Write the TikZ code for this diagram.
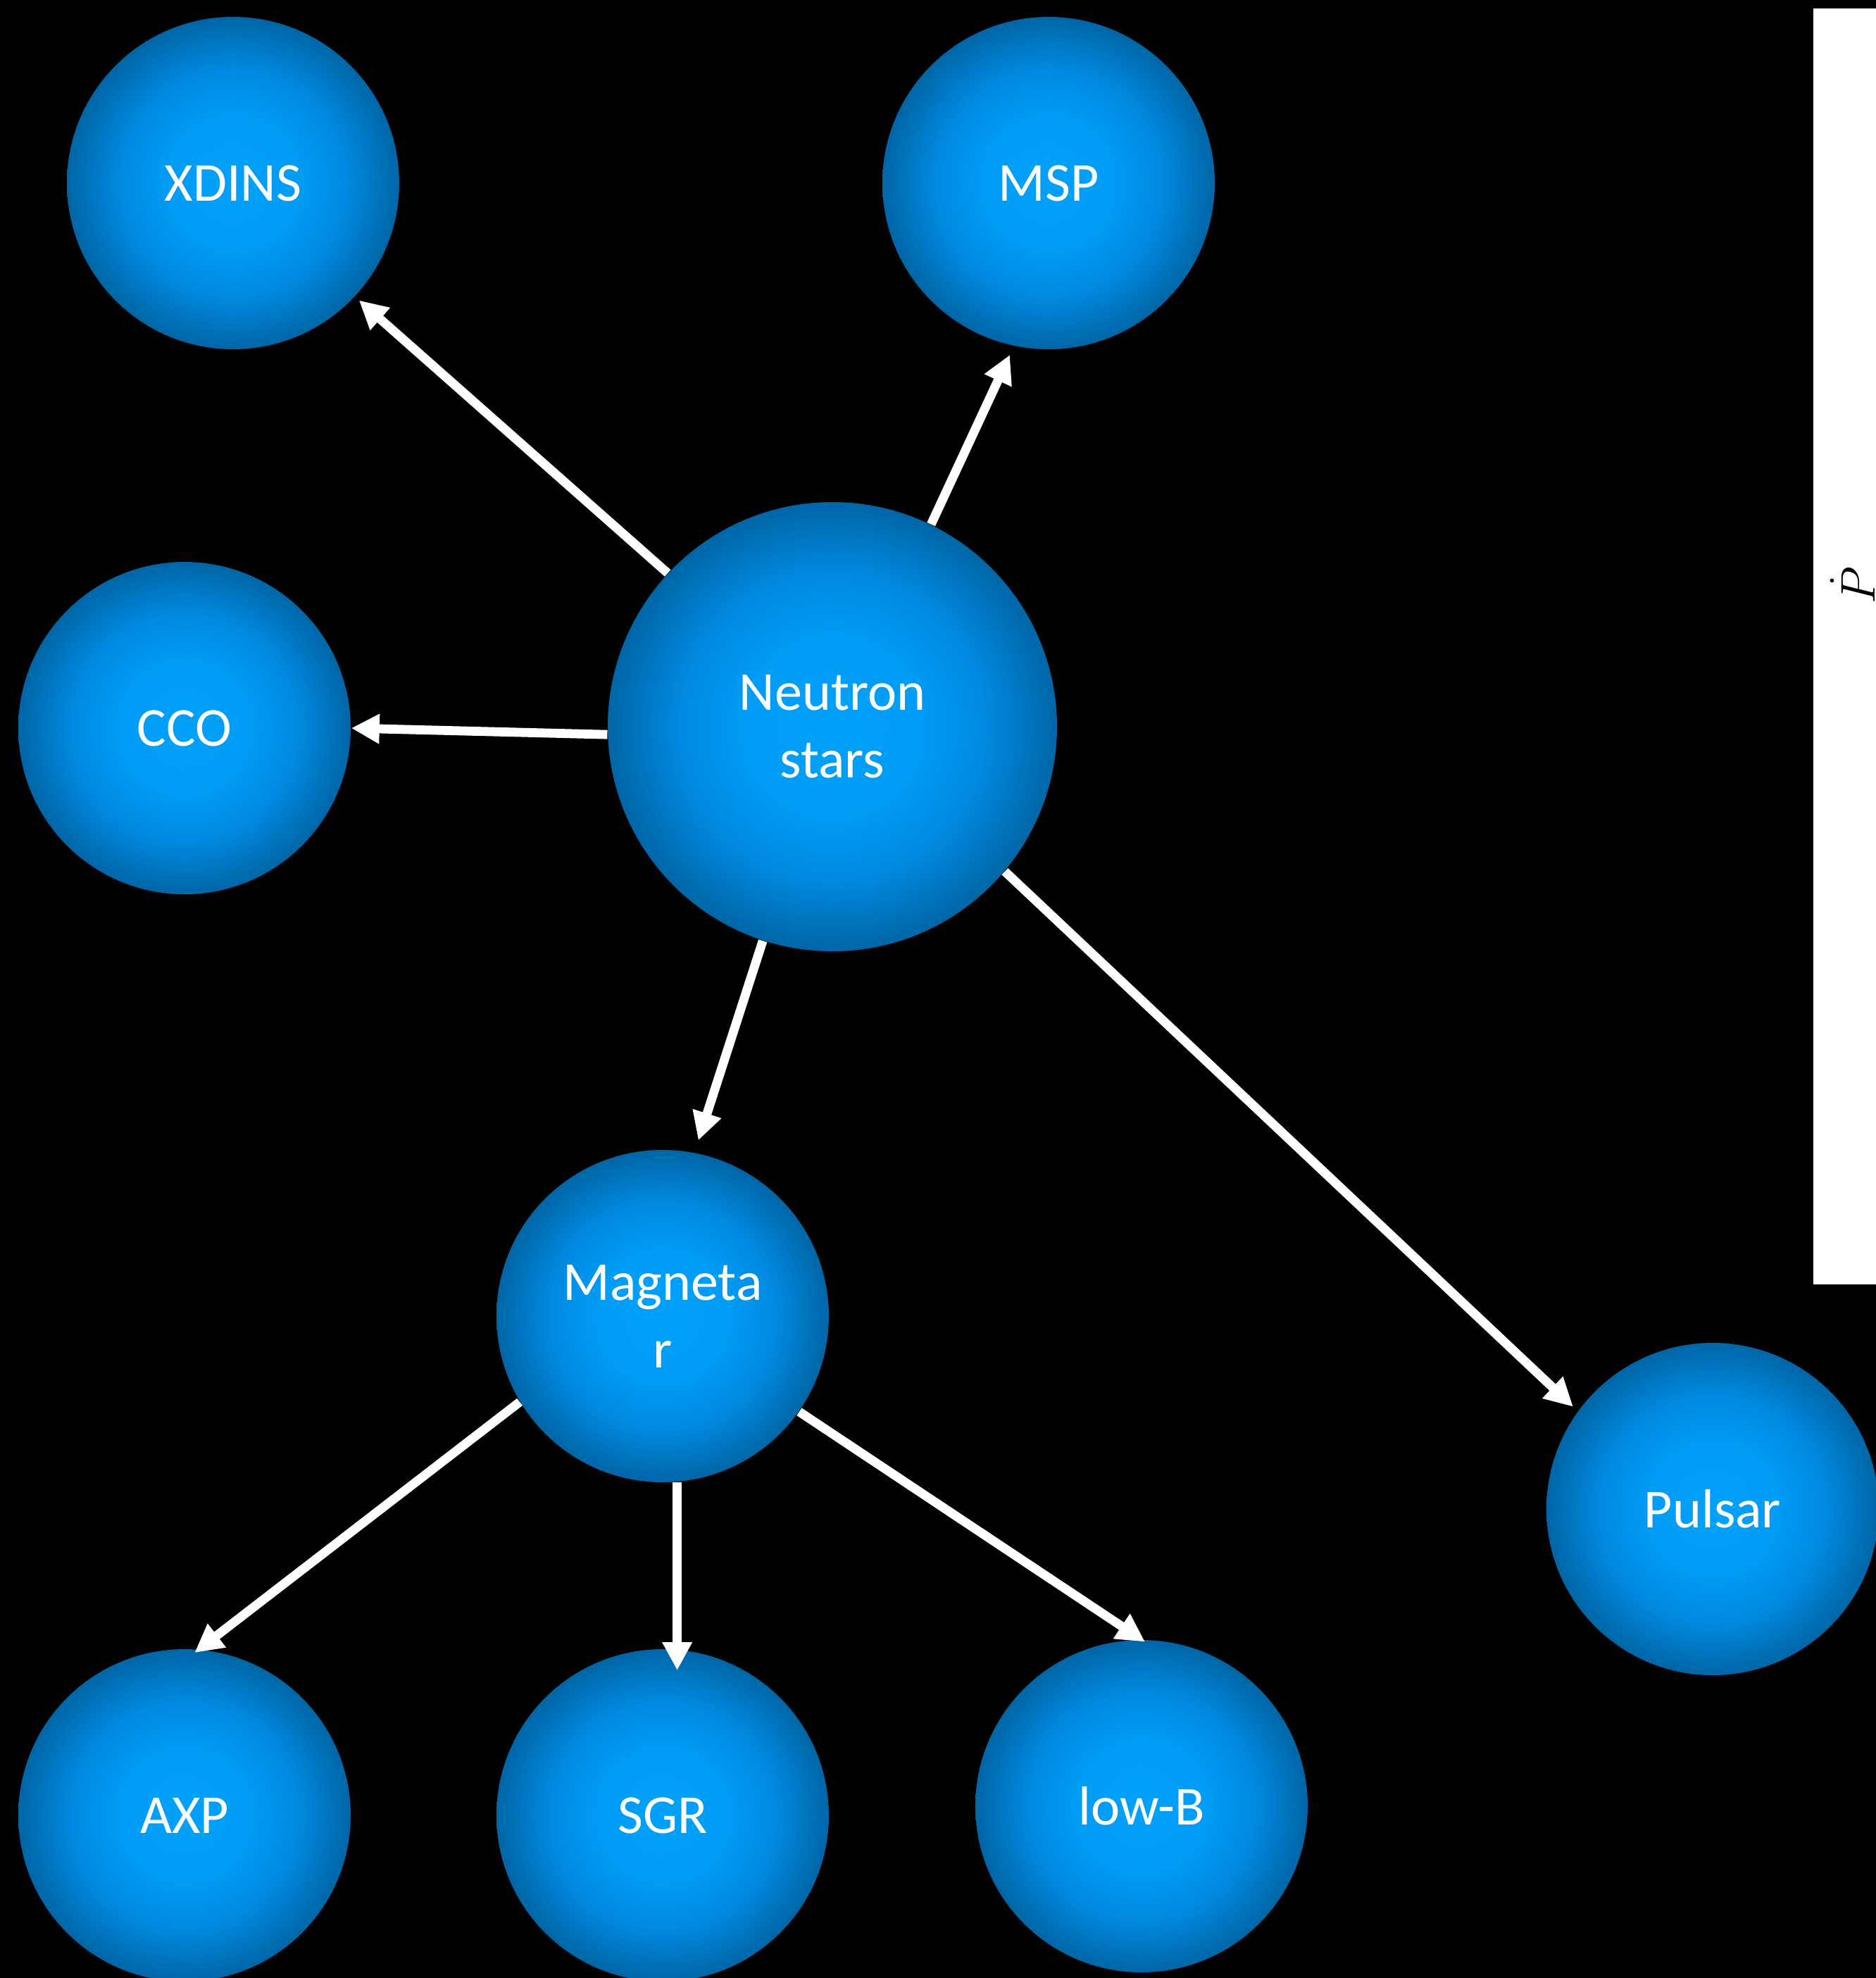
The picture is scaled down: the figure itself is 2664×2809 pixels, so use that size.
\documentclass[tikz,border=0pt]{standalone}
\usepackage{fontspec}
\setmainfont{Carlito}
\usetikzlibrary{arrows.meta}
\pgfdeclareradialshading{nsball}{\pgfpoint{0bp}{0bp}}{rgb(0bp)=(0,0.63,0.98); rgb(10bp)=(0,0.61,0.96); rgb(17bp)=(0,0.54,0.88); rgb(25bp)=(0,0.40,0.65); rgb(50bp)=(0,0.40,0.65)}
\tikzset{
  nsnode/.style={circle, shade, shading=nsball, minimum size=118pt, inner sep=0pt,
    text=white, font=\fontsize{19.5}{24}\selectfont, align=center},
  nsbig/.style={nsnode, minimum size=159.5pt},
  link/.style={draw=white, line width=3.2pt, -{Triangle[length=10pt,width=10pt]}},
}
\begin{document}
\begin{tikzpicture}[x=0.25pt, y=-0.25pt]
  \useasboundingbox (0,0) rectangle (2664,2809);
  \fill[black] (0,0) rectangle (2664,2809);
  % white strip with axis label
  \fill[white] (2575,12) rectangle (2664,1824);
  \node[rotate=90, anchor=base west, inner sep=0pt, font=\fontsize{17.5}{20}\selectfont] (pdot) at (2662,858) {$\dot{P}$};
  % nodes
  \node[nsnode] (xdins) at (331,260) {XDINS};
  \node[nsnode] (msp) at (1489,260) {MSP};
  \node[nsnode] (cco) at (262,1034) {CCO};
  \node[nsbig] (ns) at (1182,1032) {Neutron\\stars};
  \node[nsnode] (mag) at (941,1869) {Magneta\\r};
  \node[nsnode] (pulsar) at (2432,2143) {Pulsar};
  \node[nsnode] (axp) at (262,2578) {AXP};
  \node[nsnode] (sgr) at (941,2578) {SGR};
  \node[nsnode] (lowb) at (1621,2565) {low-B};
  % connectors
  \draw[link, shorten >=1.9pt] (ns.137.3) -- (xdins.-43.1);
  \draw[link, shorten >=3.4pt] (ns.64.2) -- (msp.-102);
  \draw[link] (ns.-178.5) -- (cco.0.4);
  \draw[link, shorten >=4.5pt] (ns.-108.3) -- (mag.79.9);
  \draw[link, shorten >=2.25pt] (ns.-40.9) -- (pulsar.144.3);
  \draw[link, shorten >=-2pt] (mag.-149.5) -- (axp.85.2);
  \draw[link, shorten >=-7.5pt] (mag.-85) -- (sgr.85);
  \draw[link, shorten >=-1.5pt] (mag.-35.1) -- (lowb.90);
\end{tikzpicture}
\end{document}
